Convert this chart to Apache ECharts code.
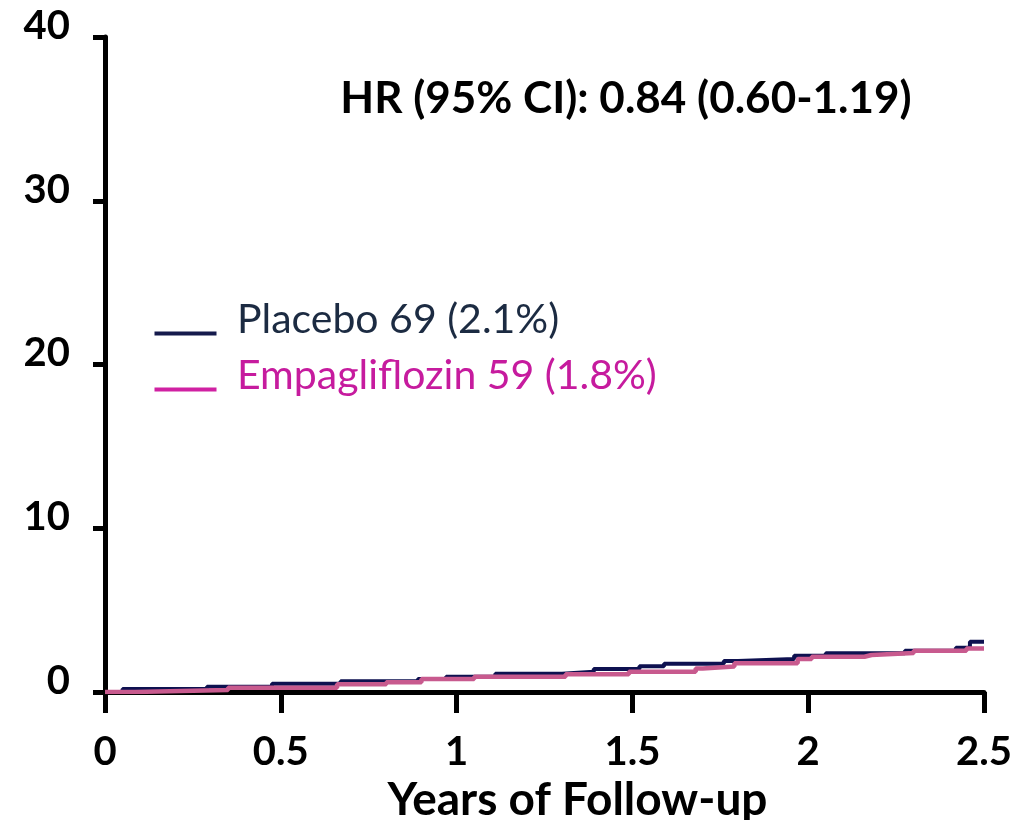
<!DOCTYPE html>
<html>
<head>
<meta charset="utf-8">
<script src="https://cdn.jsdelivr.net/npm/echarts@6/dist/echarts.min.js"></script>
<style>
  html, body { margin: 0; padding: 0; background: #fff; }
  #chart { width: 1035px; height: 820px; }
</style>
</head>
<body>
<div id="chart"></div>
<script>
// Cumulative incidence (%) by years of follow-up, Kaplan-Meier steps
const placeboSteps = [
  [0, 0], [0.05, 0.18], [0.29, 0.32], [0.475, 0.5], [0.67, 0.65], [0.89, 0.79],
  [0.97, 0.93], [1.11, 1.12], [1.30, 1.24], [1.39, 1.40], [1.52, 1.57], [1.59, 1.73],
  [1.76, 1.89], [1.80, 2.01], [1.96, 2.21], [2.05, 2.36], [2.275, 2.52], [2.42, 2.70],
  [2.46, 3.07], [2.5, 3.07]
];
const empaSteps = [
  [0, 0], [0.085, 0.12], [0.35, 0.26], [0.66, 0.47], [0.80, 0.6], [0.90, 0.79],
  [1.05, 0.93], [1.31, 1.08], [1.49, 1.24], [1.68, 1.44], [1.70, 1.55], [1.79, 1.75],
  [1.97, 2.01], [2.01, 2.15], [2.16, 2.26], [2.18, 2.38], [2.30, 2.52], [2.45, 2.65],
  [2.5, 2.65]
];

const groupNames = ['Placebo', 'Empagliflozin'];
const groupEvents = [69, 59];
const groupPct = ['2.1%', '1.8%'];
const hrText = 'HR (95% CI): 0.84 (0.60-1.19)';
const xAxisTitle = 'Years of Follow-up';

const lineColors = ['#0e1150', '#c85a8e'];
const legendLineColors = ['#151a4c', '#d021a2'];
const legendTextColors = ['#1c2b42', '#c61b9e'];

const FONT = 'Lato, "Open Sans", sans-serif';
const labels = groupNames.map((n, i) => `${n} ${groupEvents[i]} (${groupPct[i]})`);

const chart = echarts.init(document.getElementById('chart'));

// Legend drawn by hand: line swatch sits at the text baseline
const legendGraphics = [];
labels.forEach((txt, i) => {
  const y = 333 + i * 56;
  legendGraphics.push({
    type: 'line', left: 152, top: y - 2,
    shape: { x1: 0, y1: 0, x2: 62, y2: 0 },
    style: { stroke: legendLineColors[i], lineWidth: 4 }
  });
  legendGraphics.push({
    type: 'text', left: 237, top: y - 34,
    style: { text: txt, fill: legendTextColors[i], font: '41px ' + FONT }
  });
});

chart.setOption({
  animation: false,
  backgroundColor: '#fff',
  grid: { left: 105, right: 51, top: 37, bottom: 128, outerBoundsMode: 'none' },
  title: {
    text: hrText,
    left: 621, top: 72, textAlign: 'center',
    textStyle: { fontFamily: FONT, fontWeight: 'bold', fontSize: 44, color: '#000' }
  },
  xAxis: {
    type: 'value', min: 0, max: 2.5, interval: 0.5,
    name: xAxisTitle, nameLocation: 'middle', nameGap: 83,
    nameTextStyle: { fontFamily: FONT, fontWeight: 'bold', fontSize: 46, color: '#000', padding: [0, 0, 0, 66] },
    axisLine: { lineStyle: { color: '#000', width: 5 } },
    axisTick: { show: true, length: 21, lineStyle: { color: '#000', width: 5 } },
    axisLabel: { margin: 40, fontFamily: FONT, fontWeight: 'bold', fontSize: 40, color: '#000' },
    splitLine: { show: false }
  },
  yAxis: {
    type: 'value', min: 0, max: 40, interval: 10,
    axisLine: { show: true, lineStyle: { color: '#000', width: 5 } },
    axisTick: { show: true, length: 12, lineStyle: { color: '#000', width: 5 } },
    axisLabel: { margin: 35, fontFamily: FONT, fontWeight: 'bold', fontSize: 40, color: '#000',
                 verticalAlign: 'bottom', lineHeight: 22 },
    splitLine: { show: false }
  },
  graphic: legendGraphics,
  series: [
    {
      name: labels[0], type: 'line', step: 'end', data: placeboSteps,
      symbol: 'none', lineStyle: { color: lineColors[0], width: 4 }, z: 2
    },
    {
      name: labels[1], type: 'line', step: 'end', data: empaSteps,
      symbol: 'none', lineStyle: { color: lineColors[1], width: 4.5 }, z: 3
    }
  ]
});
</script>
</body>
</html>
